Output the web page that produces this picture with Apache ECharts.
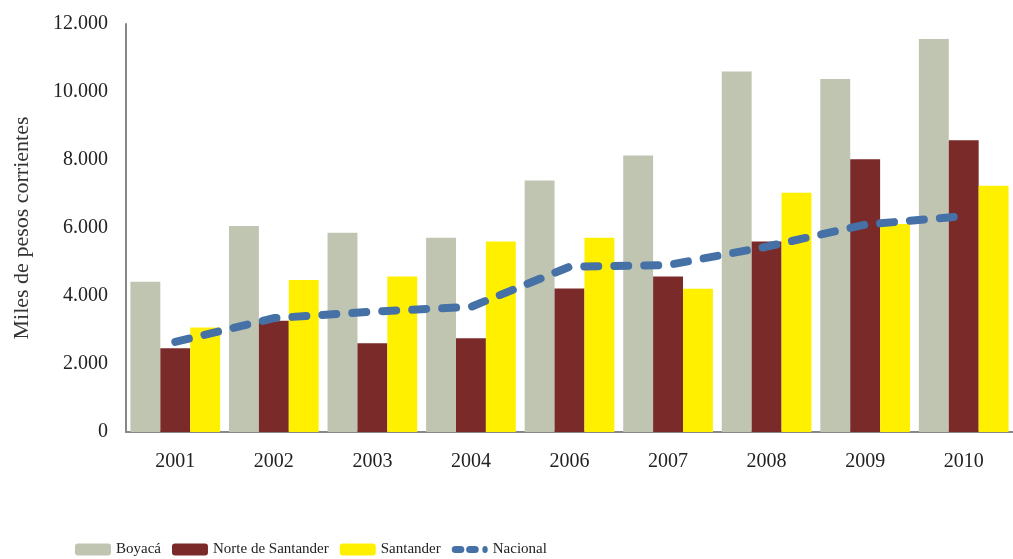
<!DOCTYPE html>
<html>
<head>
<meta charset="utf-8">
<script src="https://cdn.jsdelivr.net/npm/echarts@6/dist/echarts.min.js"></script>
<style>
  html, body { margin: 0; padding: 0; background: #fff; }
  #chart { width: 1013px; height: 559px; }
</style>
</head>
<body>
<div id="chart"></div>
<script>
// años y valores (miles de pesos corrientes)
const years = ['2001', '2002', '2003', '2004', '2006', '2007', '2008', '2009', '2010'];
const boyaca = [4420, 6060, 5860, 5710, 7400, 8130, 10600, 10380, 11560];
const norteSantander = [2460, 3270, 2610, 2760, 4220, 4570, 5600, 8020, 8580];
const santander = [3070, 4470, 4570, 5600, 5710, 4210, 7040, 6120, 7240];
const nacional = [2650, 3350, 3540, 3680, 4860, 4910, 5450, 6100, 6350];

const serif = '"Liberation Serif", "DejaVu Serif", serif';

// icono de la leyenda: dos guiones y un punto (con puntos diminutos arriba/abajo para el alto)
const dashIcon = 'path://M0,0L0.1,0L0.1,0.1Z M0,13L0.1,13L0.1,12.9Z' +
  'M4,2.5H10A4,4 0 0 1 10,10.5H4A4,4 0 0 1 4,2.5Z' +
  'M20,2.5H26A4,4 0 0 1 26,10.5H20A4,4 0 0 1 20,2.5Z' +
  'M37,2.5A3,4 0 0 1 37,10.5A3,4 0 0 1 37,2.5Z';

const chart = echarts.init(document.getElementById('chart'));

const option = {
  backgroundColor: '#fff',
  animation: false,
  grid: { left: 126, right: -6, top: 24, bottom: 127 },
  legend: {
    left: 70,
    top: 537,
    itemWidth: 36,
    itemHeight: 12,
    itemGap: 11,
    textStyle: { fontFamily: serif, fontSize: 15, color: '#222' },
    data: [
      'Boyacá', 'Norte de Santander', 'Santander',
      { name: 'Nacional', icon: dashIcon, itemStyle: { color: '#4671a6' } }
    ]
  },
  xAxis: {
    type: 'category',
    data: years,
    axisLine: { lineStyle: { color: '#888', width: 2 } },
    axisTick: { show: false },
    axisLabel: { fontFamily: serif, fontSize: 20, color: '#222', margin: 20 }
  },
  yAxis: {
    type: 'value',
    min: 0,
    max: 12000,
    interval: 2000,
    name: 'Miles de pesos corrientes',
    nameLocation: 'middle',
    nameGap: 93,
    nameTextStyle: { fontFamily: serif, fontSize: 22, color: '#333' },
    axisLine: { show: true, lineStyle: { color: '#888', width: 2 } },
    axisTick: { show: false },
    splitLine: { show: false },
    axisLabel: {
      fontFamily: serif, fontSize: 20, color: '#222', margin: 18,
      formatter: v => v === 0 ? '0' : (v / 1000) + '.000'
    }
  },
  series: [
    {
      name: 'Boyacá', type: 'bar', data: boyaca,
      barGap: '0%', barCategoryGap: '9%',
      itemStyle: { color: '#bfc5b1' }
    },
    {
      name: 'Norte de Santander', type: 'bar', data: norteSantander,
      itemStyle: { color: '#7b2a2a' }
    },
    {
      name: 'Santander', type: 'bar', data: santander,
      itemStyle: { color: '#fff000' }
    },
    {
      name: 'Nacional', type: 'line', data: nacional,
      symbol: 'none',
      lineStyle: { color: '#4671a6', width: 8, type: [14, 16], cap: 'round' },
      itemStyle: { color: '#4671a6' },
      z: 5
    }
  ]
};

chart.setOption(option);
</script>
</body>
</html>
